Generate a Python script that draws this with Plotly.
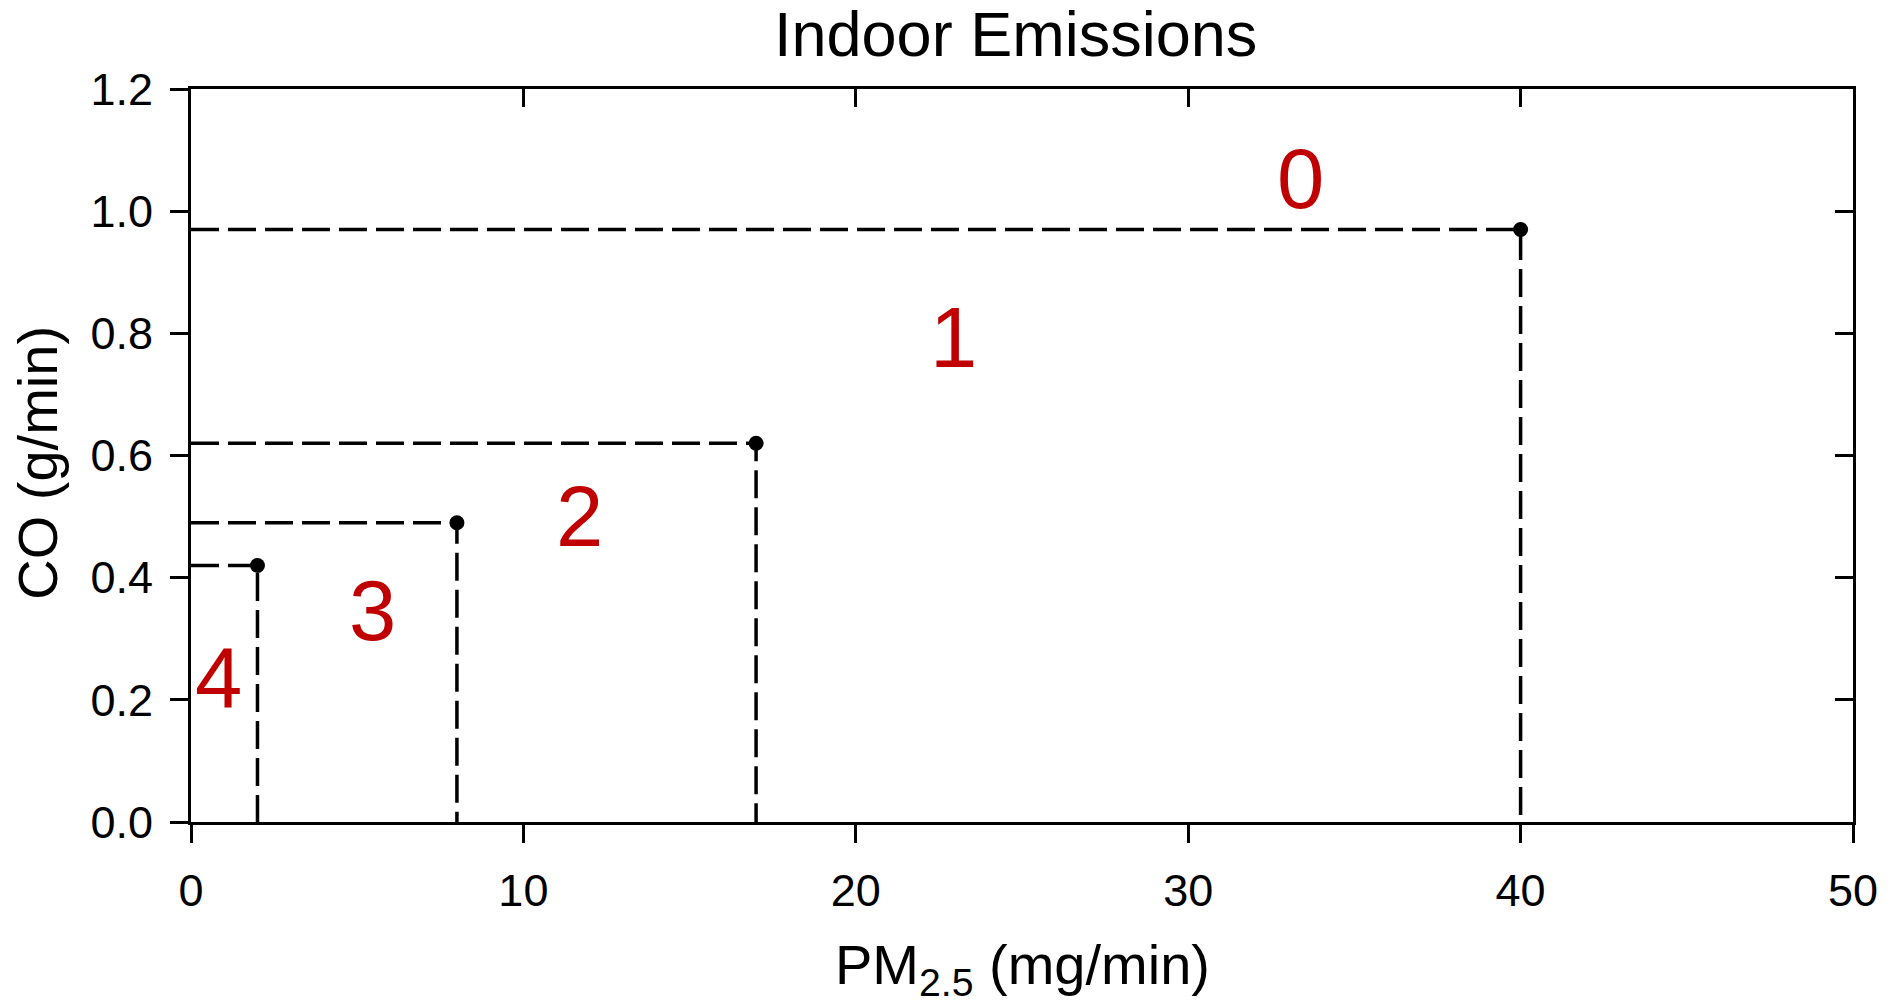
import plotly.graph_objects as go

# ---- data ----
pm25 = [2, 8, 17, 40]          # mg/min
co = [0.42, 0.49, 0.62, 0.97]  # g/min
zone_labels = ["4", "3", "2", "1", "0"]
zone_x = [0.83, 5.46, 11.68, 22.95, 33.39]
zone_y = [0.236, 0.347, 0.50, 0.794, 1.053]
x_ticks = [0, 10, 20, 30, 40, 50]
y_ticks = [0.0, 0.2, 0.4, 0.6, 0.8, 1.0, 1.2]

FONT = "Liberation Sans, Arial, sans-serif"
RED = "#C00000"

fig = go.Figure()

# dashed guide lines from each point to both axes
for xv, yv in zip(pm25, co):
    fig.add_trace(go.Scatter(
        x=[0, xv, xv], y=[yv, yv, 0], mode="lines",
        line=dict(color="black", width=3.5, dash="28px,9px"),
        hoverinfo="skip", showlegend=False))

# points
fig.add_trace(go.Scatter(
    x=pm25, y=co, mode="markers",
    marker=dict(color="black", size=15),
    showlegend=False))

# invisible trace for the mirrored (top/right) axes
fig.add_trace(go.Scatter(x=[None], y=[None], xaxis="x2", yaxis="y2",
                         showlegend=False, hoverinfo="skip"))

axis_common = dict(showline=True, linecolor="black", linewidth=3,
                   ticks="outside", ticklen=18, tickwidth=2.5, tickcolor="black",
                   showgrid=False, zeroline=False,
                   tickfont=dict(family=FONT, size=45, color="black"))

fig.update_layout(
    width=1893, height=1007,
    margin=dict(l=191, r=40, t=89, b=185),
    paper_bgcolor="white", plot_bgcolor="white",
    font=dict(family=FONT, color="black"),
    xaxis=dict(range=[0, 50], tickvals=x_ticks, ticktext=[str(v) for v in x_ticks],
               ticklabelstandoff=9, **axis_common),
    yaxis=dict(range=[0, 1.2], tickvals=y_ticks, ticktext=[f"{v:.1f}" for v in y_ticks],
               ticklabelstandoff=8, **axis_common),
    xaxis2=dict(overlaying="x", side="top", range=[0, 50], tickvals=x_ticks,
                showticklabels=False, showline=True, linecolor="black", linewidth=3,
                ticks="inside", ticklen=18, tickwidth=2.5, tickcolor="black",
                showgrid=False, zeroline=False),
    yaxis2=dict(overlaying="y", side="right", range=[0, 1.2], tickvals=y_ticks,
                showticklabels=False, showline=True, linecolor="black", linewidth=3,
                ticks="inside", ticklen=18, tickwidth=2.5, tickcolor="black",
                showgrid=False, zeroline=False),
)

annotations = []
# zone numbers
for lab, xv, yv in zip(zone_labels, zone_x, zone_y):
    annotations.append(dict(x=xv, y=yv, xref="x", yref="y", text=lab, showarrow=False,
                            xanchor="center", yanchor="middle",
                            font=dict(family=FONT, size=85, color=RED)))
# title and axis titles
annotations.append(dict(x=0.496, y=1.0757, xref="paper", yref="paper",
                        text="Indoor Emissions", showarrow=False,
                        xanchor="center", yanchor="middle",
                        font=dict(family=FONT, size=63, color="black")))
annotations.append(dict(x=0.5, y=-0.2005, xref="paper", yref="paper",
                        text="PM<sub>2.5</sub> (mg/min)", showarrow=False,
                        xanchor="center", yanchor="middle",
                        font=dict(family=FONT, size=56, color="black")))
annotations.append(dict(x=-0.0921, y=0.49, xref="paper", yref="paper",
                        text="CO (g/min)", showarrow=False, textangle=-90,
                        xanchor="center", yanchor="middle",
                        font=dict(family=FONT, size=56, color="black")))
fig.update_layout(annotations=annotations)

fig.write_html("out.html")
